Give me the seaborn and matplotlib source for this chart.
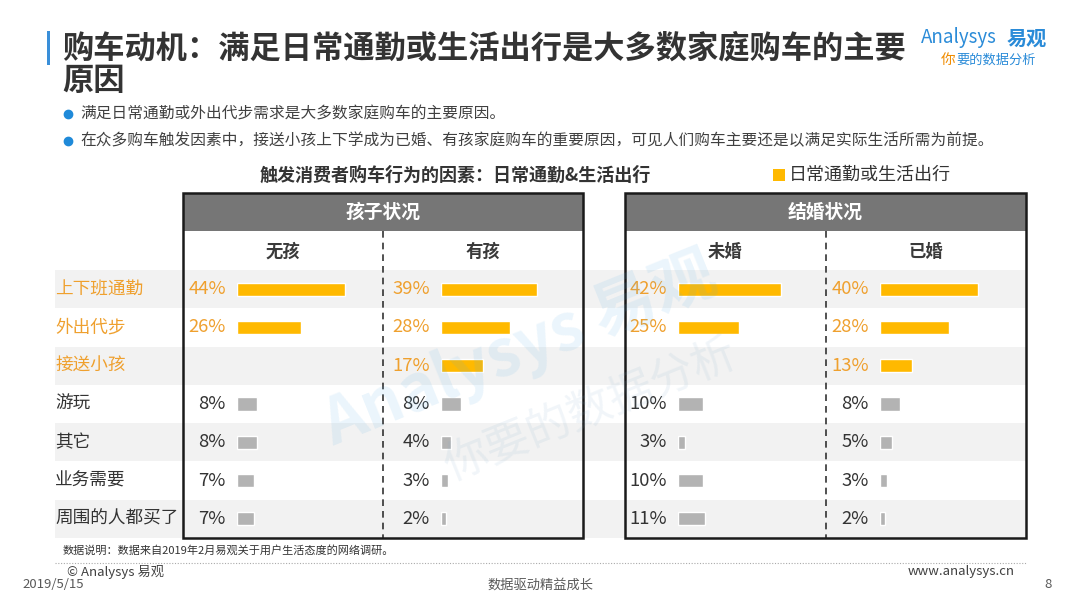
import matplotlib
matplotlib.use('Agg')
import matplotlib.pyplot as plt
import seaborn as sns
import pandas as pd
import numpy as np
from matplotlib.patches import Rectangle
from matplotlib.lines import Line2D

sns.set_theme(style='white')
plt.rcParams['font.family'] = ['Noto Sans CJK SC', 'DejaVu Sans']

# ---------------- data ----------------
factors = ['上下班通勤', '外出代步', '接送小孩', '游玩', '其它', '业务需要', '周围的人都买了']
kinds = ['commute', 'commute', 'commute', 'other', 'other', 'other', 'other']
no_child = [44, 26, np.nan, 8, 8, 7, 7]
has_child = [39, 28, 17, 8, 4, 3, 2]
unmarried = [42, 25, np.nan, 10, 3, 10, 11]
married = [40, 28, 13, 8, 5, 3, 2]
group_titles = ['孩子状况', '结婚状况']
column_titles = ['无孩', '有孩', '未婚', '已婚']
title_line1 = '购车动机：满足日常通勤或生活出行是大多数家庭购车的主要'
title_line2 = '原因'
bullets = ['满足日常通勤或外出代步需求是大多数家庭购车的主要原因。',
           '在众多购车触发因素中，接送小孩上下学成为已婚、有孩家庭购车的重要原因，可见人们购车主要还是以满足实际生活所需为前提。']
chart_title = '触发消费者购车行为的因素：日常通勤&生活出行'
legend_label = '日常通勤或生活出行'
note = '数据说明：数据来自2019年2月易观关于用户生活态度的网络调研。'

df = pd.DataFrame({'factor': factors, 'kind': kinds,
                   '无孩': no_child, '有孩': has_child,
                   '未婚': unmarried, '已婚': married})

# ---------------- layout helpers ----------------
W, H = 1080, 607
fig = plt.figure(figsize=(W / 100, H / 100), dpi=100)
fig.patch.set_facecolor('white')

def add_ax(x0, y0, x1, y1):
    return fig.add_axes([x0 / W, 1 - y1 / H, (x1 - x0) / W, (y1 - y0) / H])

def ftext(x, y, s, **kw):
    return fig.text(x / W, 1 - y / H, s, **kw)

def frect(x0, y0, x1, y1, **kw):
    r = Rectangle((x0 / W, 1 - y1 / H), (x1 - x0) / W, (y1 - y0) / H,
                  transform=fig.transFigure, **kw)
    fig.patches.append(r)
    return r

def fline(xs, ys, **kw):
    l = Line2D([x / W for x in xs], [1 - y / H for y in ys],
               transform=fig.transFigure, **kw)
    fig.lines.append(l)
    return l

ORANGE = '#FFB900'
ORANGE_TXT = '#EFA02E'
GRAY_BAR = '#B3B3B3'
DARK = '#333333'
BLUE = '#2A8BD8'

ROW_TOP, ROW_BOT = 270, 538
n = len(factors)

# ---------------- row backgrounds & labels ----------------
ax_bg = add_ax(55, ROW_TOP, 1026, ROW_BOT)
ax_bg.set_xlim(0, 1)
ax_bg.set_ylim(n - 0.5, -0.5)
for i in range(n):
    if i % 2 == 0:
        ax_bg.axhspan(i - 0.5, i + 0.5, color='#F2F2F2', lw=0)
    ax_bg.text(0.0, i, factors[i], ha='left', va='center', fontsize=12.7,
               color=ORANGE_TXT if kinds[i] == 'commute' else DARK)
ax_bg.axis('off')

# ---------------- bar columns ----------------
PX_PER_PCT = 2.45
col_bar_start = [237, 441, 678, 880]
col_bar_end = [380, 580, 822, 1022]
palette = {'commute': ORANGE, 'other': GRAY_BAR}
for c, name in enumerate(column_titles):
    x0, x1 = col_bar_start[c], col_bar_end[c]
    ax = add_ax(x0, ROW_TOP, x1, ROW_BOT)
    sub = df[['factor', 'kind', name]].dropna()
    sns.barplot(data=sub, x=name, y='factor', hue='kind', order=factors,
                palette=palette, dodge=False, width=0.34, legend=False,
                errorbar=None, saturation=1, ax=ax, zorder=3)
    ax.set_xlim(0, (x1 - x0) / PX_PER_PCT)
    ax.set_ylim(n - 0.5, -0.5)
    ax.axis('off')
    ax.patch.set_alpha(0)
    vals = df[name].tolist()
    for i, v in enumerate(vals):
        if np.isnan(v):
            continue
        ax.annotate(f'{v:.0f}%', xy=(0, i), xytext=(-8, 0),
                    textcoords='offset points', ha='right', va='center',
                    fontsize=13.3,
                    color=ORANGE_TXT if kinds[i] == 'commute' else DARK)

# ---------------- panel frames & headers ----------------
panels = [(183, 583), (625, 1026)]
for p, (px0, px1) in enumerate(panels):
    frect(px0, 193, px1, 231, facecolor='#767676', edgecolor='none', zorder=2)
    frect(px0, 193, px1, ROW_BOT, facecolor='none', edgecolor='#1A1A1A',
          lw=1.8, zorder=4)
    mid = (px0 + px1) / 2
    ftext(mid, 212, group_titles[p], ha='center', va='center', fontsize=13.5,
          weight='bold', color='white', zorder=5)
    fline([mid, mid], [231, ROW_BOT], color='#333333', lw=1.2,
          linestyle=(0, (4, 3)), zorder=4)
    ftext((px0 + mid) / 2, 252, column_titles[2 * p], ha='center', va='center',
          fontsize=12.5, weight='bold', color='#3A3A3A')
    ftext((mid + px1) / 2, 252, column_titles[2 * p + 1], ha='center', va='center',
          fontsize=12.5, weight='bold', color='#3A3A3A')

# ---------------- title & texts ----------------
frect(47, 31, 50, 65, facecolor='#3A8FD9', edgecolor='none')
ftext(62, 48, title_line1, ha='left', va='center', fontsize=22.5,
      weight='bold', color='#333333')
ftext(62, 81, title_line2, ha='left', va='center', fontsize=22.5,
      weight='bold', color='#333333')

# logo
ftext(921, 38, 'Analysys', ha='left', va='center', fontsize=13.5,
      style='italic', color=BLUE)
ftext(1007, 38, '易观', ha='left', va='center', fontsize=14.5,
      weight='bold', color=BLUE)
ftext(941, 60, '你', ha='left', va='center', fontsize=10.5,
      style='italic', color='#F08C00')
ftext(956, 60, '要的数据分析', ha='left', va='center', fontsize=9.5,
      style='italic', color=BLUE)

for k, (yb, s) in enumerate(zip([114, 141], bullets)):
    fline([68], [yb], marker='o', markersize=6, color='#1F8AD9', lw=0)
    ftext(80, yb, s, ha='left', va='center', fontsize=11.3, color='#404040')

ftext(455, 175, chart_title, ha='center', va='center', fontsize=13,
      weight='bold', color='#333333')
frect(773, 169, 785, 181, facecolor=ORANGE, edgecolor='none')
ftext(789, 175, legend_label, ha='left', va='center', fontsize=13,
      color='#333333')

# watermark
ftext(520, 350, 'Analysys 易观', ha='center', va='center', fontsize=46,
      rotation=22, color='#5AAEE6', alpha=0.12, weight='bold', zorder=6)
ftext(590, 410, '你要的数据分析', ha='center', va='center', fontsize=32,
      rotation=22, color='#7FA9C9', alpha=0.11, zorder=6)

# footer
ftext(63, 550, note, ha='left', va='center', fontsize=8, color='#333333')
fline([55, 1026], [563, 563], color='#AAAAAA', lw=0.8, linestyle=(0, (1, 1.5)))
ftext(67, 572, '© Analysys 易观', ha='left', va='center', fontsize=9.5,
      color='#404040')
ftext(22, 584, '2019/5/15', ha='left', va='center', fontsize=9.5,
      color='#595959')
ftext(540, 585, '数据驱动精益成长', ha='center', va='center', fontsize=9.5,
      color='#595959')
ftext(1015, 572, 'www.analysys.cn', ha='right', va='center', fontsize=9.5,
      color='#404040')
ftext(1048, 584, '8', ha='center', va='center', fontsize=9.5, color='#595959')

fig.savefig('out.png', dpi=100, facecolor='white')
